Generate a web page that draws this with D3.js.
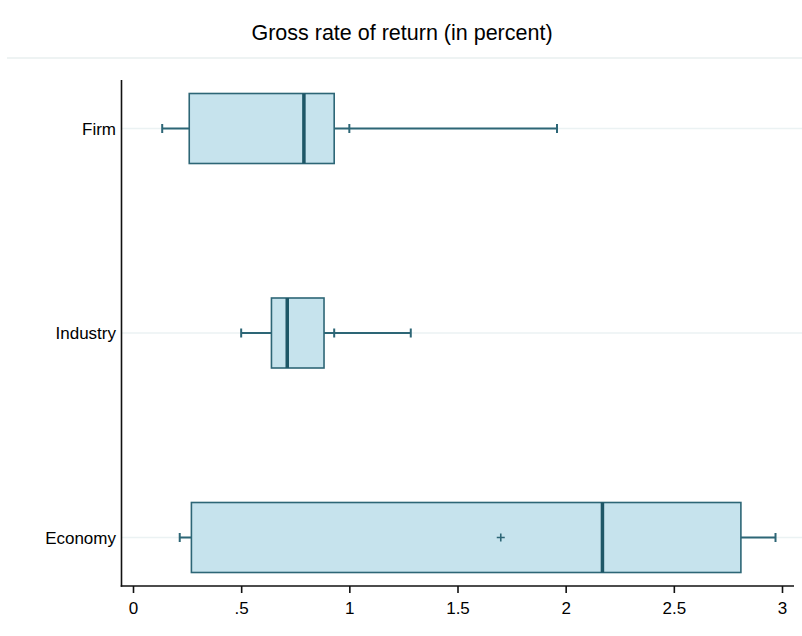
<!DOCTYPE html>
<html>
<head>
<meta charset="utf-8">
<script src="https://cdn.jsdelivr.net/npm/d3@7"></script>
<style>
  body { margin: 0; background: #fff; }
  svg { display: block; font-family: "Liberation Sans", Arial, sans-serif; }
</style>
</head>
<body>
<div id="chart"></div>
<script>
// box plot data (gross rate of return, percent)
const categories   = ["Firm", "Industry", "Economy"];
const whiskerLow   = [0.135, 0.50, 0.216];
const q1           = [0.26, 0.64, 0.27];
const median       = [0.79, 0.713, 2.17];
const q3           = [0.93, 0.883, 2.81];
const whiskerHigh  = [1.96, 1.284, 2.97];
const adjacentMark = [1.0, 0.93, null];
const meanMark     = [null, null, 1.70];
const xTicks       = [0, 0.5, 1, 1.5, 2, 2.5, 3];
const xTickLabels  = ["0", ".5", "1", "1.5", "2", "2.5", "3"];
const title = "Gross rate of return (in percent)";

const W = 802, H = 636;
const fill = "#c6e3ed", edge = "#2d6676", medCol = "#1e5767", grid = "#ebf2f3";

const svg = d3.select("#chart").append("svg")
    .attr("width", W)
    .attr("height", H);

const x = d3.scaleLinear().domain([0, 3]).range([133, 782]);
const y = d3.scalePoint().domain(categories).range([128.5, 537.5]);
const boxH = 70;
const axisY = 586, axisX = 121.5;

const rows = categories.map((c, i) => ({
  cat: c, lo: whiskerLow[i], q1: q1[i], med: median[i], q3: q3[i],
  hi: whiskerHigh[i], adj: adjacentMark[i], mean: meanMark[i]
}));

// title + separator
svg.append("text")
    .attr("x", W / 2 + 1)
    .attr("y", 40)
    .attr("text-anchor", "middle")
    .style("font-size", "21.5px")
    .attr("fill", "#000")
    .text(title);
svg.append("line")
    .attr("x1", 7).attr("x2", W)
    .attr("y1", 58).attr("y2", 58)
    .attr("stroke", "#eef3f3").attr("stroke-width", 2);

// category grid lines
svg.selectAll(".grid")
    .data(categories)
    .enter().append("line")
    .attr("class", "grid")
    .attr("x1", axisX).attr("x2", W)
    .attr("y1", d => y(d)).attr("y2", d => y(d))
    .attr("stroke", grid).attr("stroke-width", 1.5);

const g = svg.selectAll(".box")
    .data(rows)
    .enter().append("g")
    .attr("class", "box");

// whiskers
g.append("line")
    .attr("x1", d => x(d.lo)).attr("x2", d => x(d.q1))
    .attr("y1", d => y(d.cat)).attr("y2", d => y(d.cat))
    .attr("stroke", edge).attr("stroke-width", 2);
g.append("line")
    .attr("x1", d => x(d.q3)).attr("x2", d => x(d.hi))
    .attr("y1", d => y(d.cat)).attr("y2", d => y(d.cat))
    .attr("stroke", edge).attr("stroke-width", 2);

// caps
const capPos = rows.flatMap(d => [d.lo, d.hi, d.adj].filter(v => v != null).map(v => ({cat: d.cat, v})));
svg.selectAll(".cap")
    .data(capPos)
    .enter().append("line")
    .attr("class", "cap")
    .attr("x1", d => x(d.v)).attr("x2", d => x(d.v))
    .attr("y1", d => y(d.cat) - 4.5).attr("y2", d => y(d.cat) + 4.5)
    .attr("stroke", edge).attr("stroke-width", 2);

// boxes
g.append("rect")
    .attr("x", d => x(d.q1))
    .attr("y", d => y(d.cat) - boxH / 2)
    .attr("width", d => x(d.q3) - x(d.q1))
    .attr("height", boxH)
    .attr("fill", fill)
    .attr("stroke", edge).attr("stroke-width", 1.6);

// medians
g.append("line")
    .attr("x1", d => x(d.med)).attr("x2", d => x(d.med))
    .attr("y1", d => y(d.cat) - boxH / 2).attr("y2", d => y(d.cat) + boxH / 2)
    .attr("stroke", medCol).attr("stroke-width", 3.5);

// mean markers
const means = rows.filter(d => d.mean != null);
svg.selectAll(".mean")
    .data(means)
    .enter().append("path")
    .attr("class", "mean")
    .attr("d", d => `M${x(d.mean) - 4},${y(d.cat)}h8M${x(d.mean)},${y(d.cat) - 4}v8`)
    .attr("stroke", edge).attr("stroke-width", 1.6);

// y axis
svg.append("line")
    .attr("x1", axisX).attr("x2", axisX)
    .attr("y1", 80).attr("y2", axisY + 0.8)
    .attr("stroke", "#111").attr("stroke-width", 1.6);
svg.selectAll(".ylab")
    .data(categories)
    .enter().append("text")
    .attr("class", "ylab")
    .attr("x", 116)
    .attr("y", d => y(d))
    .attr("dy", "0.36em")
    .attr("text-anchor", "end")
    .style("font-size", "17px")
    .attr("fill", "#000")
    .text(d => d);

// x axis
const xAxis = d3.axisBottom(x)
    .tickValues(xTicks)
    .tickFormat((d, i) => xTickLabels[i])
    .tickSize(7)
    .tickPadding(9)
    .tickSizeOuter(0);
const ax = svg.append("g")
    .attr("transform", `translate(0, ${axisY})`)
    .call(xAxis);
ax.select(".domain").remove();
ax.selectAll(".tick line").attr("stroke", "#111").attr("stroke-width", 1.6);
ax.selectAll(".tick text")
    .style("font-size", "17px")
    .style("font-family", "Liberation Sans, Arial, sans-serif")
    .attr("fill", "#000");
svg.append("line")
    .attr("x1", axisX - 0.8).attr("x2", 794)
    .attr("y1", axisY).attr("y2", axisY)
    .attr("stroke", "#111").attr("stroke-width", 1.6);
</script>
</body>
</html>
